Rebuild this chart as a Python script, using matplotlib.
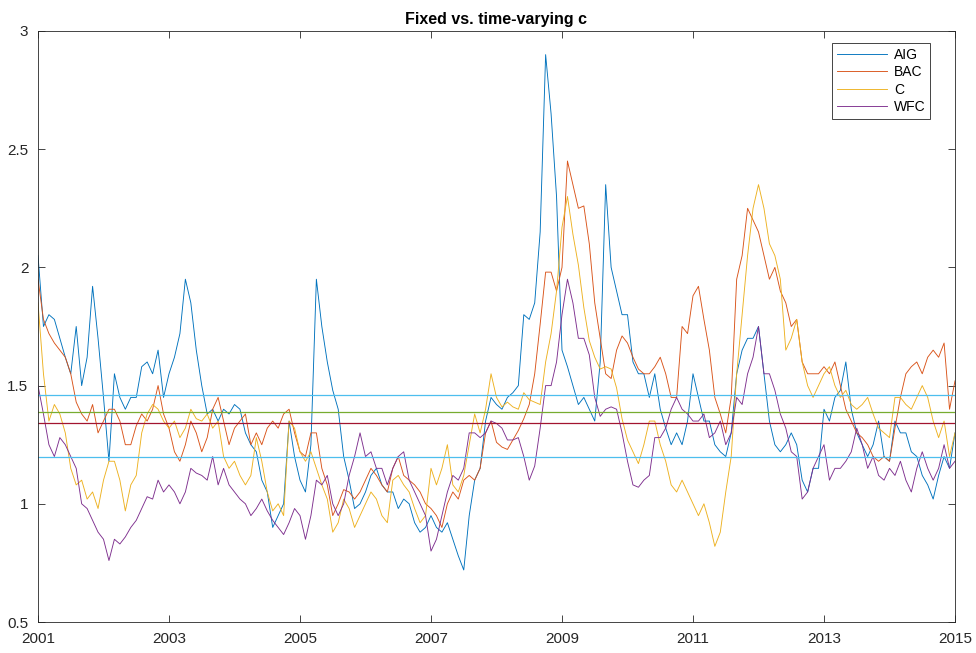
import numpy as np
import matplotlib
matplotlib.use('Agg')
import matplotlib.pyplot as plt

plt.rcParams['font.family'] = ['Liberation Sans', 'DejaVu Sans']

# monthly readings, Jan 2001 .. Jan 2015
start_year = 2001
n_months = 169

aig = [2.05, 1.75, 1.80, 1.78, 1.70, 1.62, 1.55, 1.75, 1.50, 1.62,
       1.92, 1.70, 1.45, 1.18, 1.55, 1.45, 1.40, 1.45, 1.45, 1.58,
       1.60, 1.55, 1.65, 1.45, 1.55, 1.62, 1.72, 1.95, 1.85, 1.65,
       1.50, 1.38, 1.40, 1.35, 1.40, 1.38, 1.42, 1.40, 1.30, 1.25,
       1.22, 1.10, 1.05, 0.90, 0.95, 1.00, 1.35, 1.20, 1.10, 1.05,
       1.25, 1.95, 1.75, 1.60, 1.48, 1.40, 1.20, 1.10, 0.98, 1.00,
       1.05, 1.12, 1.15, 1.08, 1.05, 1.05, 0.98, 1.02, 1.00, 0.92,
       0.88, 0.90, 0.95, 0.90, 0.88, 0.92, 0.85, 0.78, 0.72, 0.95,
       1.10, 1.15, 1.35, 1.45, 1.42, 1.40, 1.45, 1.47, 1.50, 1.80,
       1.78, 1.85, 2.15, 2.90, 2.65, 2.30, 1.65, 1.58, 1.50, 1.42,
       1.45, 1.40, 1.35, 1.60, 2.35, 2.00, 1.90, 1.80, 1.80, 1.60,
       1.55, 1.55, 1.45, 1.55, 1.40, 1.32, 1.25, 1.30, 1.25, 1.35,
       1.55, 1.45, 1.35, 1.35, 1.25, 1.22, 1.20, 1.30, 1.55, 1.65,
       1.70, 1.70, 1.75, 1.55, 1.35, 1.25, 1.22, 1.25, 1.30, 1.25,
       1.10, 1.05, 1.15, 1.15, 1.40, 1.35, 1.45, 1.48, 1.60, 1.40,
       1.30, 1.25, 1.20, 1.25, 1.35, 1.20, 1.18, 1.35, 1.30, 1.30,
       1.22, 1.20, 1.12, 1.08, 1.02, 1.12, 1.20, 1.15, 1.30]

bac = [1.95, 1.78, 1.72, 1.68, 1.65, 1.62, 1.55, 1.43, 1.38, 1.35,
       1.42, 1.30, 1.35, 1.40, 1.40, 1.35, 1.25, 1.25, 1.33, 1.38,
       1.35, 1.40, 1.50, 1.38, 1.32, 1.22, 1.18, 1.25, 1.35, 1.30,
       1.22, 1.28, 1.40, 1.45, 1.35, 1.25, 1.32, 1.35, 1.38, 1.25,
       1.30, 1.25, 1.32, 1.35, 1.32, 1.38, 1.40, 1.30, 1.22, 1.20,
       1.30, 1.30, 1.15, 1.08, 0.95, 1.00, 1.06, 1.05, 1.02, 1.05,
       1.10, 1.15, 1.12, 1.08, 1.05, 1.15, 1.20, 1.12, 1.10, 1.08,
       1.05, 1.00, 0.98, 0.95, 0.90, 1.00, 1.05, 1.02, 1.10, 1.12,
       1.10, 1.15, 1.30, 1.35, 1.26, 1.24, 1.23, 1.27, 1.31, 1.36,
       1.42, 1.55, 1.76, 1.98, 1.98, 1.90, 2.00, 2.45, 2.35, 2.25,
       2.26, 2.10, 1.85, 1.70, 1.55, 1.53, 1.65, 1.71, 1.68, 1.62,
       1.57, 1.55, 1.55, 1.58, 1.62, 1.55, 1.45, 1.45, 1.75, 1.72,
       1.88, 1.92, 1.78, 1.65, 1.45, 1.38, 1.30, 1.45, 1.95, 2.05,
       2.25, 2.20, 2.15, 2.05, 1.95, 2.00, 1.90, 1.85, 1.75, 1.78,
       1.60, 1.55, 1.55, 1.55, 1.58, 1.55, 1.60, 1.50, 1.40, 1.35,
       1.30, 1.28, 1.25, 1.20, 1.18, 1.20, 1.18, 1.32, 1.45, 1.55,
       1.58, 1.60, 1.55, 1.62, 1.65, 1.62, 1.68, 1.40, 1.52]

citi = [1.85, 1.55, 1.35, 1.42, 1.38, 1.30, 1.15, 1.08, 1.10, 1.02,
        1.05, 0.98, 1.10, 1.18, 1.18, 1.10, 0.97, 1.08, 1.12, 1.30,
        1.38, 1.42, 1.40, 1.35, 1.32, 1.35, 1.28, 1.32, 1.40, 1.36,
        1.35, 1.38, 1.32, 1.35, 1.20, 1.15, 1.18, 1.12, 1.08, 1.12,
        1.28, 1.18, 1.05, 0.97, 1.00, 0.95, 1.35, 1.32, 1.22, 1.18,
        1.22, 1.15, 1.08, 1.02, 0.88, 0.92, 1.02, 0.98, 0.90, 0.95,
        1.00, 1.05, 1.02, 0.95, 0.92, 1.10, 1.12, 1.08, 1.05, 0.98,
        0.92, 0.95, 1.15, 1.08, 1.15, 1.25, 1.08, 1.05, 1.12, 1.25,
        1.38, 1.30, 1.40, 1.55, 1.45, 1.41, 1.43, 1.41, 1.40, 1.47,
        1.44, 1.43, 1.42, 1.60, 1.72, 1.90, 2.17, 2.30, 2.14, 2.01,
        1.83, 1.69, 1.62, 1.57, 1.58, 1.57, 1.49, 1.36, 1.27, 1.22,
        1.17, 1.25, 1.35, 1.35, 1.25, 1.18, 1.08, 1.05, 1.10, 1.05,
        1.00, 0.95, 1.00, 0.92, 0.82, 0.88, 1.05, 1.20, 1.55, 1.80,
        2.05, 2.25, 2.35, 2.25, 2.10, 2.05, 1.95, 1.65, 1.70, 1.78,
        1.60, 1.50, 1.45, 1.50, 1.55, 1.58, 1.50, 1.45, 1.48, 1.42,
        1.40, 1.42, 1.45, 1.38, 1.32, 1.30, 1.28, 1.45, 1.45, 1.42,
        1.40, 1.45, 1.50, 1.45, 1.35, 1.28, 1.35, 1.20, 1.30]

wfc = [1.50, 1.38, 1.25, 1.20, 1.28, 1.25, 1.20, 1.15, 1.00, 0.98,
       0.93, 0.88, 0.85, 0.76, 0.85, 0.83, 0.86, 0.90, 0.93, 0.98,
       1.03, 1.02, 1.10, 1.05, 1.08, 1.05, 1.00, 1.05, 1.15, 1.13,
       1.12, 1.10, 1.20, 1.08, 1.15, 1.08, 1.05, 1.02, 1.00, 0.95,
       0.98, 1.02, 0.97, 0.93, 0.90, 0.87, 0.92, 0.98, 0.95, 0.85,
       0.95, 1.10, 1.08, 1.12, 1.00, 0.95, 1.00, 1.12, 1.20, 1.30,
       1.20, 1.22, 1.15, 1.15, 1.08, 1.15, 1.20, 1.22, 1.10, 1.05,
       1.00, 0.95, 0.80, 0.85, 0.95, 1.05, 1.12, 1.10, 1.15, 1.30,
       1.30, 1.28, 1.30, 1.35, 1.34, 1.32, 1.27, 1.27, 1.28, 1.20,
       1.10, 1.16, 1.32, 1.50, 1.50, 1.60, 1.80, 1.95, 1.85, 1.70,
       1.70, 1.63, 1.45, 1.37, 1.40, 1.41, 1.40, 1.30, 1.18, 1.08,
       1.07, 1.10, 1.12, 1.28, 1.28, 1.32, 1.40, 1.45, 1.40, 1.38,
       1.35, 1.35, 1.38, 1.28, 1.30, 1.35, 1.25, 1.30, 1.45, 1.42,
       1.55, 1.62, 1.75, 1.55, 1.55, 1.48, 1.38, 1.32, 1.22, 1.20,
       1.02, 1.05, 1.15, 1.20, 1.25, 1.10, 1.15, 1.15, 1.18, 1.22,
       1.32, 1.25, 1.15, 1.20, 1.12, 1.10, 1.15, 1.12, 1.18, 1.10,
       1.05, 1.15, 1.22, 1.15, 1.10, 1.15, 1.25, 1.15, 1.18]

names = ['AIG', 'BAC', 'C', 'WFC']
series_colors = ['#0072BD', '#D95319', '#EDB120', '#7E2F8E']

# fixed (constant) c estimates
fixed_c = [1.462, 1.388, 1.340, 1.200]
fixed_colors = ['#4DBEEE', '#77AC30', '#A2142F', '#4DBEEE']

t = start_year + np.arange(n_months) / 12.0

fig = plt.figure(figsize=(9.76, 6.53), dpi=100)
ax = fig.add_axes([38/976, 31/653, (955-38)/976, (622-31)/653])

for y, name, col in zip([aig, bac, citi, wfc], names, series_colors):
    ax.plot(t, y, color=col, lw=0.65, label=name)

for c, col in zip(fixed_c, fixed_colors):
    ax.plot([t[0], t[-1]], [c, c], color=col, lw=0.9)

ax.set_xlim(2001, 2015)
ax.set_ylim(0.5, 3)
ax.set_xticks(np.arange(2001, 2016, 2))
ax.set_xticklabels([str(y) for y in range(2001, 2016, 2)])
ax.set_yticks([0.5, 1, 1.5, 2, 2.5, 3])
ax.set_yticklabels(['0.5', '1', '1.5', '2', '2.5', '3'])

ax.tick_params(direction='in', top=True, right=True, length=5, width=0.6,
               colors='#262626', labelsize=11)
ax.tick_params(axis='x', pad=7)
ax.tick_params(axis='y', pad=7)
for s in ax.spines.values():
    s.set_color('#262626')
    s.set_linewidth(0.6)

ax.set_title('Fixed vs. time-varying c', fontsize=11.5, fontweight='bold', pad=5)

leg = ax.legend(loc='upper right', bbox_to_anchor=(0.973, 0.98), borderaxespad=0,
                fontsize=10, fancybox=False, framealpha=1, edgecolor='#262626',
                handlelength=3.6, handletextpad=0.5, borderpad=0.35,
                labelspacing=0.25)
leg.get_frame().set_linewidth(0.6)

fig.savefig('out.png', dpi=100)
